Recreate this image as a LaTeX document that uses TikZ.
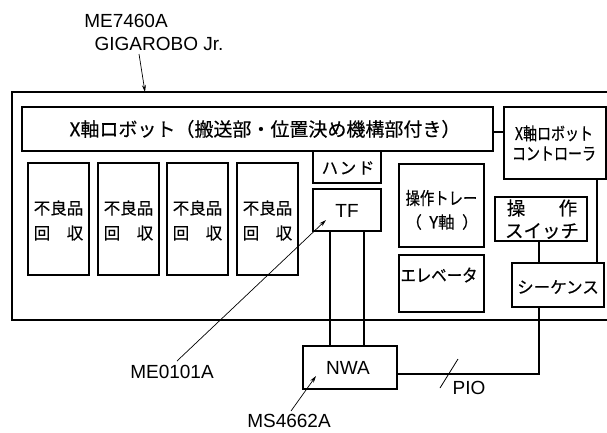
\documentclass[tikz,border=0pt]{standalone}
\usepackage{fontspec}
\setmainfont{Liberation Sans}
\newfontfamily\cjk[FakeBold=0.4]{Noto Sans CJK JP}
\usetikzlibrary{arrows.meta}
\begin{document}
\begin{tikzpicture}[x=1pt,y=-1pt,
  box/.style={draw,line width=1.5pt},
  conn/.style={line width=1.3pt},
  lead/.style={line width=0.7pt},
  jp/.style={font=\cjk\fontsize{16.5}{18}\selectfont,inner sep=0pt},
  lat/.style={font=\fontsize{19}{21}\selectfont,inner sep=0pt},
  tip/.style={-{Stealth[length=7pt,width=4pt]}}]
\useasboundingbox (0,0) rectangle (607,432);
% outer frame (no right edge visible)
\draw[line width=1.5pt] (607,92) -- (12,92) -- (12,320) -- (607,320);
\coordinate (frametop) at (145,92);
% x-axis robot bar
\node[box,minimum width=471pt,minimum height=44pt,inner sep=0pt] (bar) at (257.5,129) {};
\node[jp,font=\cjk\fontsize{19}{21}\selectfont] (bartxt) at (265,129) {X軸ロボット（搬送部・位置決め機構部付き）};
% controller
\node[box,minimum width=102pt,minimum height=72pt,inner sep=0pt] (ctrl) at (555,143) {};
\node[jp,align=center,font=\cjk\fontsize{17.5}{19}\selectfont] (ctrltxt) at (554,143) {\scalebox{0.8}[1]{X軸ロボット}\\[1pt]\scalebox{0.8}[1]{コントローラ}};
\draw[conn] (bar.east |- 0,132) -- (ctrl.west |- 0,132);
% reject boxes
\foreach \i/\x in {1/58.5,2/128.5,3/197.5,4/267.5}{
  \node[box,minimum width=61pt,minimum height=112pt,inner sep=0pt] (rej\i) at (\x,219) {};
  \node[jp] (rejA\i) at (\x,208) {不良品};
  \node[jp] (rejB\i) at (\x,233) {回\hspace{1em}収};
}
% hand
\node[box,minimum width=68pt,minimum height=32pt,inner sep=0pt] (hand) at (347,167) {};
\node[jp] (handtxt) at (348,168) {ハ\hspace{0.1em}ン\hspace{0.1em}ド};
% TF
\node[box,minimum width=68pt,minimum height=42pt,inner sep=0pt] (tf) at (347,210) {};
\node[lat] (tftxt) at (347,211) {TF};
% tray
\node[box,minimum width=85pt,minimum height=83pt,inner sep=0pt] (tray) at (441.5,205.5) {};
\node[jp,font=\cjk\fontsize{17.5}{19}\selectfont] (trayA) at (441.5,198) {\scalebox{0.82}[1]{操作トレー}};
\node[jp] (trayB) at (442,222) {（\hspace{0.45em}Y軸\hspace{0.45em}）};
% elevator
\node[box,minimum width=85pt,minimum height=57pt,inner sep=0pt] (elev) at (441.5,283.5) {};
\node[jp,font=\cjk\fontsize{17.5}{19}\selectfont] (elevtxt) at (439,275) {\scalebox{0.88}[1]{エレベータ}};
% switch
\node[box,minimum width=92pt,minimum height=44pt,inner sep=0pt] (sw) at (541,219) {};
\node[jp,font=\cjk\fontsize{18.5}{20}\selectfont] (swA) at (542,208) {操\hspace{1.8em}作};
\node[jp,font=\cjk\fontsize{18.5}{20}\selectfont] (swB) at (542,231) {スイッチ};
% sequence
\node[box,minimum width=92pt,minimum height=44pt,inner sep=0pt] (seq) at (558,285) {};
\node[jp] (seqtxt) at (558,287) {シーケンス};
% NWA
\node[box,minimum width=94pt,minimum height=43pt,inner sep=0pt] (nwa) at (350,367.5) {};
\node[lat] (nwatxt) at (348,368) {NWA};
% connections
\draw[conn] (330,231) -- (330,346);
\draw[conn] (364,231) -- (364,346);
\draw[conn] (539,241) -- (539,263);
\draw[conn] (597,179) -- (597,263);
\draw[conn] (539,307) -- (539,374) -- (397,374);
\coordinate (pioA) at (440,388);
\coordinate (pioB) at (458,359);
\draw[lead,line width=0.8pt] (pioA) -- (pioB);
\node[lat] (pio) at (469,388) {PIO};
% labels
\node[lat] (me7460) at (126,21) {ME7460A};
\node[lat] (giga) at (159,44) {GIGAROBO Jr.};
\draw[lead,tip] (139,54) -- (frametop);
\node[lat] (me0101) at (172,372) {ME0101A};
\coordinate (tfpt) at (326,220);
\draw[lead,tip] (177,361) -- (tfpt);
\node[lat] (ms4662) at (289,421) {MS4662A};
\coordinate (nwapt) at (316,376);
\draw[lead,tip] (291,411) -- (nwapt);
\end{tikzpicture}
\end{document}
